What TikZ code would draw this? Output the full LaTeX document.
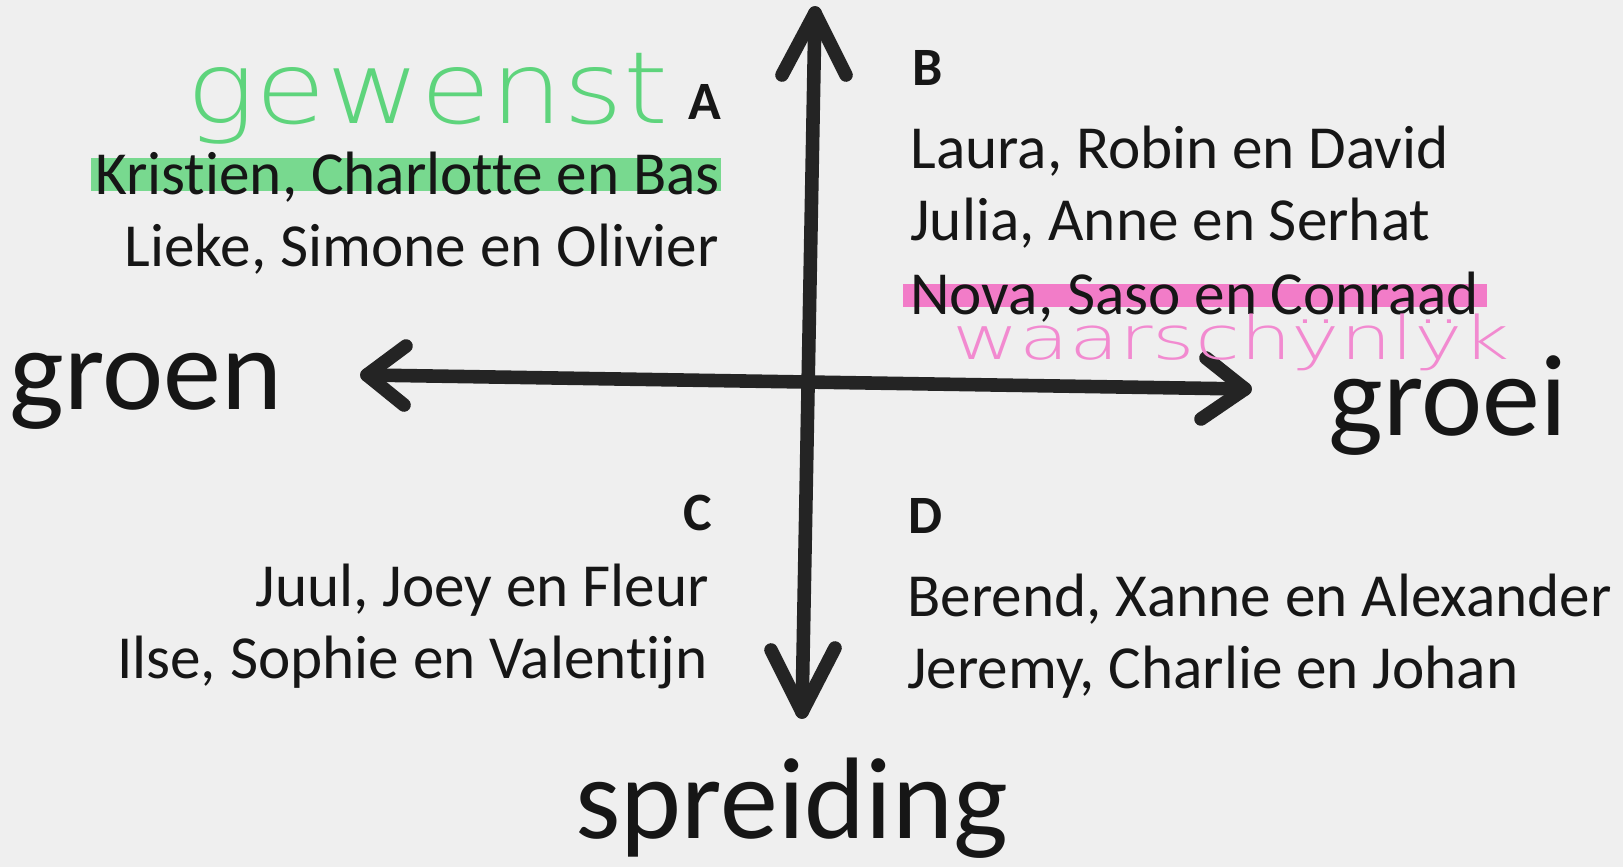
\documentclass[tikz,border=0pt]{standalone}
\usepackage{fontspec}
\setmainfont{Carlito}[Ligatures=NoCommon]
\newfontfamily\handfont{DejaVu Sans}[UprightFont={* ExtraLight}]
\usetikzlibrary{calc}
\newcommand\handydots{\ooalign{y\cr\hidewidth\raisebox{0.6em}{.\kern-0.06em.}\hidewidth\cr}}
\definecolor{paper}{HTML}{EFEFEF}
\definecolor{ink}{HTML}{161616}
\definecolor{axisink}{HTML}{242424}
\definecolor{hlgreen}{HTML}{78D98F}
\definecolor{pengreen}{HTML}{5ED47C}
\definecolor{hlpink}{HTML}{F27CC8}
\definecolor{penpink}{HTML}{F28AD0}
\tikzset{
  axisline/.style={draw=axisink, line width=6.8pt, line cap=round, line join=round},
  names/.style={inner sep=0pt, text=ink, font=\fontsize{30.6}{36}\selectfont},
  quad/.style={inner sep=0pt, text=ink, font=\fontsize{27}{30}\selectfont\bfseries},
  big/.style={inner sep=0pt, text=ink, font=\fontsize{58}{64}\selectfont},
  hand/.style={inner sep=0pt, font=\handfont},
}
\begin{document}
\begin{tikzpicture}[x=0.5pt,y=-0.5pt]
\useasboundingbox (0,0) rectangle (1623,867);
\fill[paper] (0,0) rectangle (1623,867);
% highlighter bands
\fill[hlgreen] (91,158) rectangle (721,191);
\fill[hlpink] (903,284) rectangle (1487,307);
% axes
\coordinate (top) at (815,13);
\coordinate (bot) at (802,712);
\coordinate (lft) at (367,375);
\coordinate (rgt) at (1245,389);
\draw[axisline] (top) -- (bot);
\draw[axisline] (lft) -- (rgt);
\draw[axisline] ($(top)+(-33,62)$) -- (top) -- ($(top)+(31,62)$);
\draw[axisline] ($(bot)+(-31,-62)$) -- (bot) -- ($(bot)+(33,-64)$);
\draw[axisline] ($(lft)+(39,-29)$) -- (lft) -- ($(lft)+(37,30)$);
\draw[axisline] ($(rgt)+(-39,-31)$) -- (rgt) -- ($(rgt)+(-44,30)$);
% axis labels
\node[big, anchor=base west] (groen) at (9,409) {groen};
\node[big, anchor=base west] (groei) at (1328,435) {groei};
\node[big, anchor=base west] (spreiding) at (575,838) {spreiding};
% quadrant letters
\node[quad, anchor=base east] (qA) at (722,119) {A};
\node[quad, anchor=base west] (qB) at (912,85) {B};
\node[quad, anchor=base east] (qC) at (712,530) {C};
\node[quad, anchor=base west] (qD) at (908,533) {D};
% names
\node[names, anchor=base east] (a1) at (720,194) {Kristien, Charlotte en Bas};
\node[names, anchor=base east] (a2) at (719,266) {Lieke, Simone en Olivier};
\node[names, anchor=base west] (b1) at (910,168) {Laura, Robin en David};
\node[names, anchor=base west] (b2) at (910,240) {Julia, Anne en Serhat};
\node[names, anchor=base west] (b3) at (910,314) {Nova, Saso en Conraad};
\node[names, anchor=base east] (c1) at (709,606) {Juul, Joey en Fleur};
\node[names, anchor=base east] (c2) at (708,678) {Ilse, Sophie en Valentijn};
\node[names, anchor=base west] (d1) at (907,616) {Berend, Xanne en Alexander};
\node[names, anchor=base west] (d2) at (907,688) {Jeremy, Charlie en Johan};
% handwriting
\node[hand, text=pengreen, anchor=base west] (gewenst) at (186,123) {\fontsize{50}{56}\selectfont\scalebox{1.15}[1]{gewenst}};
\node[hand, text=penpink, anchor=base west] (waarsch) at (952,359) {\fontsize{30}{34}\selectfont\scalebox{1.36}[1]{waarsch\handydots nl\handydots k}};
\end{tikzpicture}
\end{document}
